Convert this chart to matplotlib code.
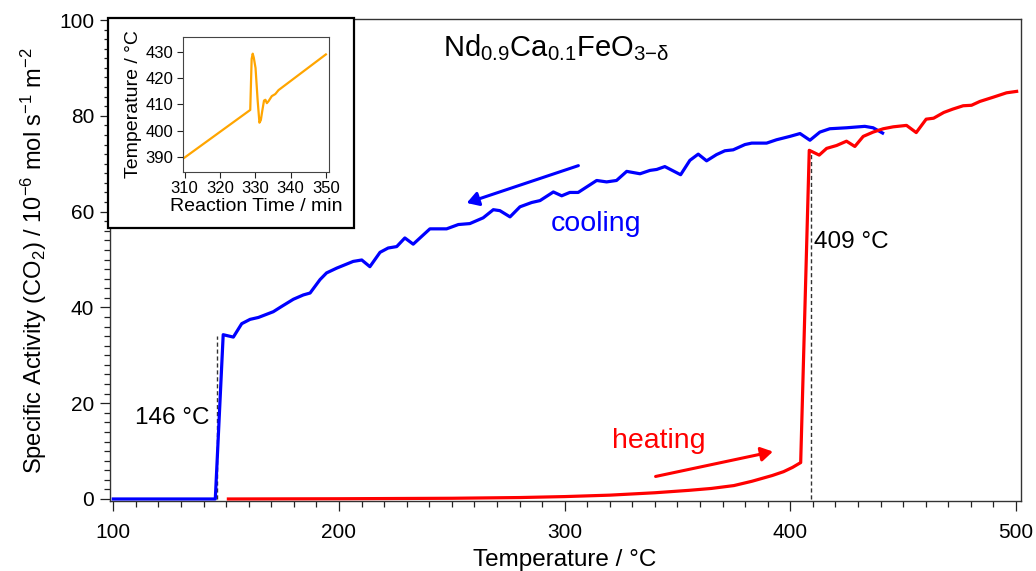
import matplotlib
matplotlib.use("Agg")
import matplotlib.pyplot as plt
from matplotlib.patches import Rectangle
from matplotlib.ticker import MultipleLocator

plt.rcParams['font.family'] = ['Liberation Sans', 'DejaVu Sans']
plt.rcParams['mathtext.fontset'] = 'custom'
plt.rcParams['mathtext.rm'] = 'Liberation Sans'
plt.rcParams['mathtext.it'] = 'Liberation Sans:italic'
plt.rcParams['mathtext.bf'] = 'Liberation Sans:bold'

# ---------------- data ----------------
cool_T = [100, 145.2, 148.7, 153.2, 156.9, 160.6, 164.3, 170.9, 174.6, 179.8, 184.2, 187.2,
          191.6, 194.5, 199.0, 206.3, 210.1, 213.7, 218.2, 221.8, 225.6, 229.2, 232.9, 240.3,
          247.7, 252.9, 258.0, 263.9, 268.4, 271.3, 275.8, 280.2, 285.4, 289.1, 295.0, 298.7,
          302.3, 306.0, 314.2, 318.6, 323.0, 327.5, 333.4, 337.8, 340.8, 344.4, 351.4, 355.5,
          359.2, 362.9, 367.3, 371.0, 374.7, 379.9, 382.9, 389.5, 393.9, 399.8, 404.3, 408.7,
          413.1, 417.5, 424.9, 433.0, 436.7, 440.9]
cool_A = [0.0, 0.0, 34.3, 33.8, 36.6, 37.5, 37.9, 39.1, 40.2, 41.7, 42.6, 43.0,
          45.8, 47.2, 48.2, 49.6, 49.9, 48.5, 51.5, 52.4, 52.7, 54.5, 53.2, 56.4,
          56.4, 57.3, 57.5, 58.7, 60.4, 60.2, 58.9, 61.0, 61.9, 62.3, 64.1, 63.3,
          64.0, 64.0, 66.5, 66.2, 66.5, 68.4, 67.9, 68.6, 68.8, 69.4, 67.7, 70.7,
          72.0, 70.6, 71.9, 72.7, 72.9, 74.0, 74.3, 74.3, 75.0, 75.7, 76.3, 74.9,
          76.6, 77.3, 77.5, 77.8, 77.5, 76.4]

heat_T = [151, 200, 250, 280, 300, 320, 340, 355, 365, 375, 383, 392, 397, 401, 404.6,
          408.4, 412.8, 416.1, 420.5, 424.9, 428.6, 432.3, 436.7, 441.2, 445.6, 451.5,
          455.8, 460.2, 463.5, 468.0, 472.0, 476.6, 480.3, 484.0, 490.0, 495.8, 500.3]
heat_A = [0.0, 0.05, 0.15, 0.3, 0.5, 0.8, 1.3, 1.8, 2.2, 2.8, 3.7, 4.9, 5.7, 6.6, 7.6,
          72.8, 71.8, 73.2, 73.8, 74.7, 73.6, 75.7, 76.6, 77.3, 77.7, 78.0,
          76.5, 79.3, 79.5, 80.7, 81.4, 82.1, 82.2, 83.0, 83.9, 84.8, 85.1]

# inset: temperature vs reaction time
inset_t = [310, 328.6, 329.0, 329.3, 329.6, 330.1, 330.7, 331.2, 331.6, 332.0, 332.5,
           332.9, 333.3, 333.8, 334.7, 335.7, 336.6, 350]
inset_T = [389.6, 407.9, 427.5, 429.5, 428.0, 424.0, 411.5, 403.0, 404.0, 407.5, 411.5,
           411.8, 410.5, 411.3, 413.2, 414.0, 415.5, 429.2]

# transition markers
T_cool, A_cool_top = 146, 34.0
T_heat, A_heat_top = 409, 72.8

# direction arrows (start, end)
cool_arrow = [(306.1, 69.6), (256.6, 61.8)]
heat_arrow = [(340.3, 4.7), (392.3, 9.9)]

BLUE = '#0000FF'
RED = '#FF0000'
ORANGE = '#FFA500'

# ---------------- figure ----------------
fig = plt.figure(figsize=(10.36, 5.71), dpi=100)
ax = fig.add_axes([0.1057, 0.1226, 0.8795, 0.8436])

ax.plot(cool_T, cool_A, color=BLUE, lw=2.3, solid_joinstyle='round', zorder=3)
ax.plot(heat_T, heat_A, color=RED, lw=2.3, solid_joinstyle='round', zorder=3)

ax.vlines([T_cool], 0, A_cool_top, colors='#333333', linestyles=(0, (3, 2)), lw=1.0, zorder=2)
ax.vlines([T_heat], 0, A_heat_top, colors='#333333', linestyles=(0, (3, 2)), lw=1.0, zorder=2)

ax.annotate('', xy=cool_arrow[1], xytext=cool_arrow[0],
            arrowprops=dict(arrowstyle='-|>,head_length=0.5,head_width=0.3', color=BLUE,
                            lw=2.2, mutation_scale=14, shrinkA=0, shrinkB=0))
ax.annotate('', xy=heat_arrow[1], xytext=heat_arrow[0],
            arrowprops=dict(arrowstyle='-|>,head_length=0.5,head_width=0.3', color=RED,
                            lw=2.2, mutation_scale=14, shrinkA=0, shrinkB=0))

ax.text(293.7, 55.9, 'cooling', color=BLUE, fontsize=20.5, ha='left', va='baseline')
ax.text(321.2, 10.6, 'heating', color=RED, fontsize=20.5, ha='left', va='baseline')
ax.text(410.4, 52.4, '409 °C', color='black', fontsize=17.5, ha='left', va='baseline')
ax.text(142.5, 15.7, '146 °C', color='black', fontsize=17.5, ha='right', va='baseline')
ax.text(246.1, 92.4, r'Nd$_{0.9}$Ca$_{0.1}$FeO$_{3{-}\mathrm{\delta}}$', color='black',
        fontsize=21, ha='left', va='baseline')

ax.set_xlim(98.32, 502.08)
ax.set_ylim(-0.42, 100.15)
ax.xaxis.set_major_locator(MultipleLocator(100))
ax.xaxis.set_minor_locator(MultipleLocator(10))
ax.yaxis.set_major_locator(MultipleLocator(20))
ax.yaxis.set_minor_locator(MultipleLocator(2))
ax.tick_params(which='both', direction='out', width=0.9, color='#222222', labelsize=15)
ax.tick_params(which='major', length=7, pad=4)
ax.tick_params(which='minor', length=4)
ax.tick_params(axis='x', which='major', pad=9)
for s in ax.spines.values():
    s.set_color('#333333')
    s.set_linewidth(1.0)

ax.set_xlabel('Temperature / °C', fontsize=17.5, labelpad=5)
ax.set_ylabel(r'Specific Activity (CO$_2$) / 10$^{-6}$ mol s$^{-1}$ m$^{-2}$', fontsize=17)
ax.yaxis.set_label_coords(-0.066, 0.5)

# inset frame box
rect = Rectangle((0.1042, 0.6007), 0.2375, 0.3678, transform=fig.transFigure,
                 facecolor='white', edgecolor='black', lw=1.6, zorder=2)
fig.patches.append(rect)

axin = fig.add_axes([0.1764, 0.6993, 0.1412, 0.2364])
axin.set_zorder(3)
axin.plot(inset_t, inset_T, color=ORANGE, lw=1.6)
axin.set_xlim(309.5, 350.9)
axin.set_ylim(384.2, 436)
axin.xaxis.set_major_locator(MultipleLocator(10))
axin.yaxis.set_major_locator(MultipleLocator(10))
axin.tick_params(direction='out', length=4, width=0.8, labelsize=12, pad=3, color='#222222')
for s in axin.spines.values():
    s.set_color('#444444')
    s.set_linewidth(0.8)
axin.set_xlabel('Reaction Time / min', fontsize=14, labelpad=1)
axin.set_ylabel('Temperature / °C', fontsize=14, labelpad=2)

fig.savefig('out.png', dpi=100)
